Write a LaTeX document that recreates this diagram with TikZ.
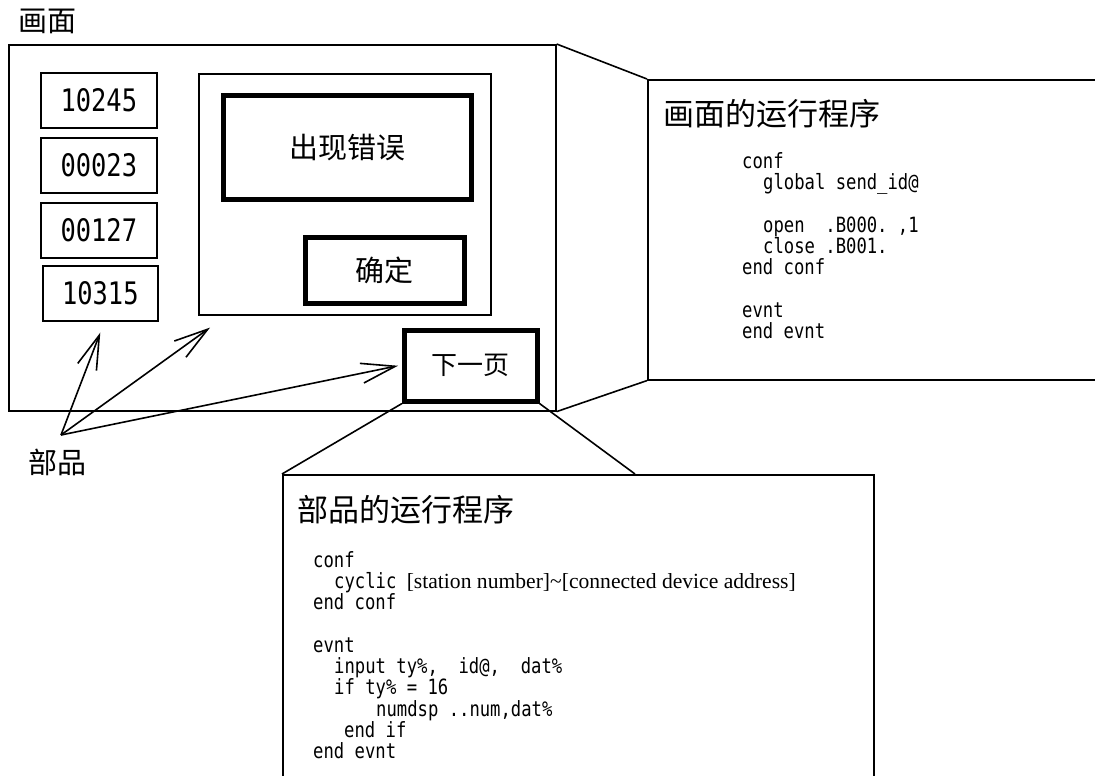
\documentclass[tikz,border=0pt]{standalone}
\usepackage{fontspec}
\usepackage{tikz}
\usepackage{xcolor}
\usetikzlibrary{calc,arrows.meta}
\setmainfont{Liberation Serif}
\newfontfamily\cjk{Noto Sans CJK SC}
\newfontfamily\codefont{DejaVu Sans Mono}[FakeStretch=0.82]

\begin{document}
\begin{tikzpicture}[x=1pt,y=-1pt,
  thinbox/.style={draw,line width=1.6pt,inner sep=0pt,anchor=north west},
  numbox/.style={thinbox,minimum height=55pt,font=\codefont\fontsize{31}{31}\selectfont},
  boldbox/.style={draw,line width=4.5pt,inner sep=0pt,anchor=north west,font=\cjk\fontsize{29}{29}\selectfont},
  cjklabel/.style={inner sep=0pt,font=\cjk\fontsize{29}{29}\selectfont},
  codetext/.style={anchor=north west,align=left,inner sep=0pt,font=\codefont\fontsize{21}{21.3}\selectfont},
  partarrow/.style={line width=1.6pt,-{Straight Barb[length=34pt,width=20pt]}}]
\path[use as bounding box] (0,0) rectangle (1095,776);

% 画面
\node[cjklabel] (screenlabel) at (47,21.5) {画面};
\node[thinbox,minimum width=547pt,minimum height=366pt] (screen) at (8,44) {};

% 数值部品
\node[numbox,minimum width=116pt] (val1) at (40,72) {10245};
\node[numbox,minimum width=116pt] (val2) at (40,137) {00023};
\node[numbox,minimum width=116pt] (val3) at (40,202) {00127};
\node[numbox,minimum width=115pt] (val4) at (42,265) {10315};

% 对话框
\node[thinbox,minimum width=292pt,minimum height=241pt] (dialog) at (198,73) {};
\node[boldbox,minimum width=248pt,minimum height=104pt] (errmsg) at (221,93) {出现错误};
\node[boldbox,minimum width=159pt,minimum height=66pt] (okbtn) at (303,235) {确定};
\node[boldbox,minimum width=133pt,minimum height=71pt,font=\cjk\fontsize{26}{26}\selectfont] (next) at (402,328) {下一页};

% 部品 - 箭头
\coordinate (buhin) at (61,435);
\node[cjklabel] (buhinlabel) at (57,462) {部品};
\draw[partarrow] (buhin) -- ([yshift=-11pt]val4.south);
\draw[partarrow] (buhin) -- ([shift={(12pt,-12pt)}]dialog.south west);
\draw[partarrow] (buhin) -- ([xshift=-4pt]next.west);

% 画面的运行程序
\node[thinbox,minimum width=460pt,minimum height=300pt] (scrprog) at (647,79) {};
\draw[line width=1.6pt] (screen.north east) -- (scrprog.north west);
\draw[line width=1.6pt] (screen.south east) -- (scrprog.south west);
\node[anchor=west,inner sep=0pt,font=\cjk\fontsize{31}{31}\selectfont] (scrtitle) at (663,113.5) {画面的运行程序};
\node[codetext] (scrcode) at (742,152) {conf\\
\hspace*{21pt}global send\_id@\\
\mbox{}\\
\hspace*{21pt}open\ \ .B000.\ ,1\\
\hspace*{21pt}close .B001.\\
end conf\\
\mbox{}\\
evnt\\
end evnt};

% 部品的运行程序
\node[thinbox,minimum width=591pt,minimum height=310pt] (partprog) at (282,474) {};
\coordinate (partprogR) at (635,474);
\draw[line width=1.6pt] (next.south west) -- (partprog.north west);
\draw[line width=1.6pt] (next.south east) -- (partprogR);
\node[anchor=west,inner sep=0pt,font=\cjk\fontsize{31}{31}\selectfont] (parttitle) at (297,510) {部品的运行程序};
\node[codetext] (partcode) at (313,551) {conf\\
\hspace*{21pt}cyclic {\rmfamily\fontsize{21.6}{21.3}\selectfont [station number]\textasciitilde[connected device address]}\\
end conf\\
\mbox{}\\
evnt\\
\hspace*{21pt}input ty\%,\ \ id@,\ \ dat\%\\
\hspace*{21pt}if ty\% = 16\\
\hspace*{63pt}numdsp ..num,dat\%\\
\hspace*{31pt}end if\\
end evnt};
\end{tikzpicture}
\end{document}
